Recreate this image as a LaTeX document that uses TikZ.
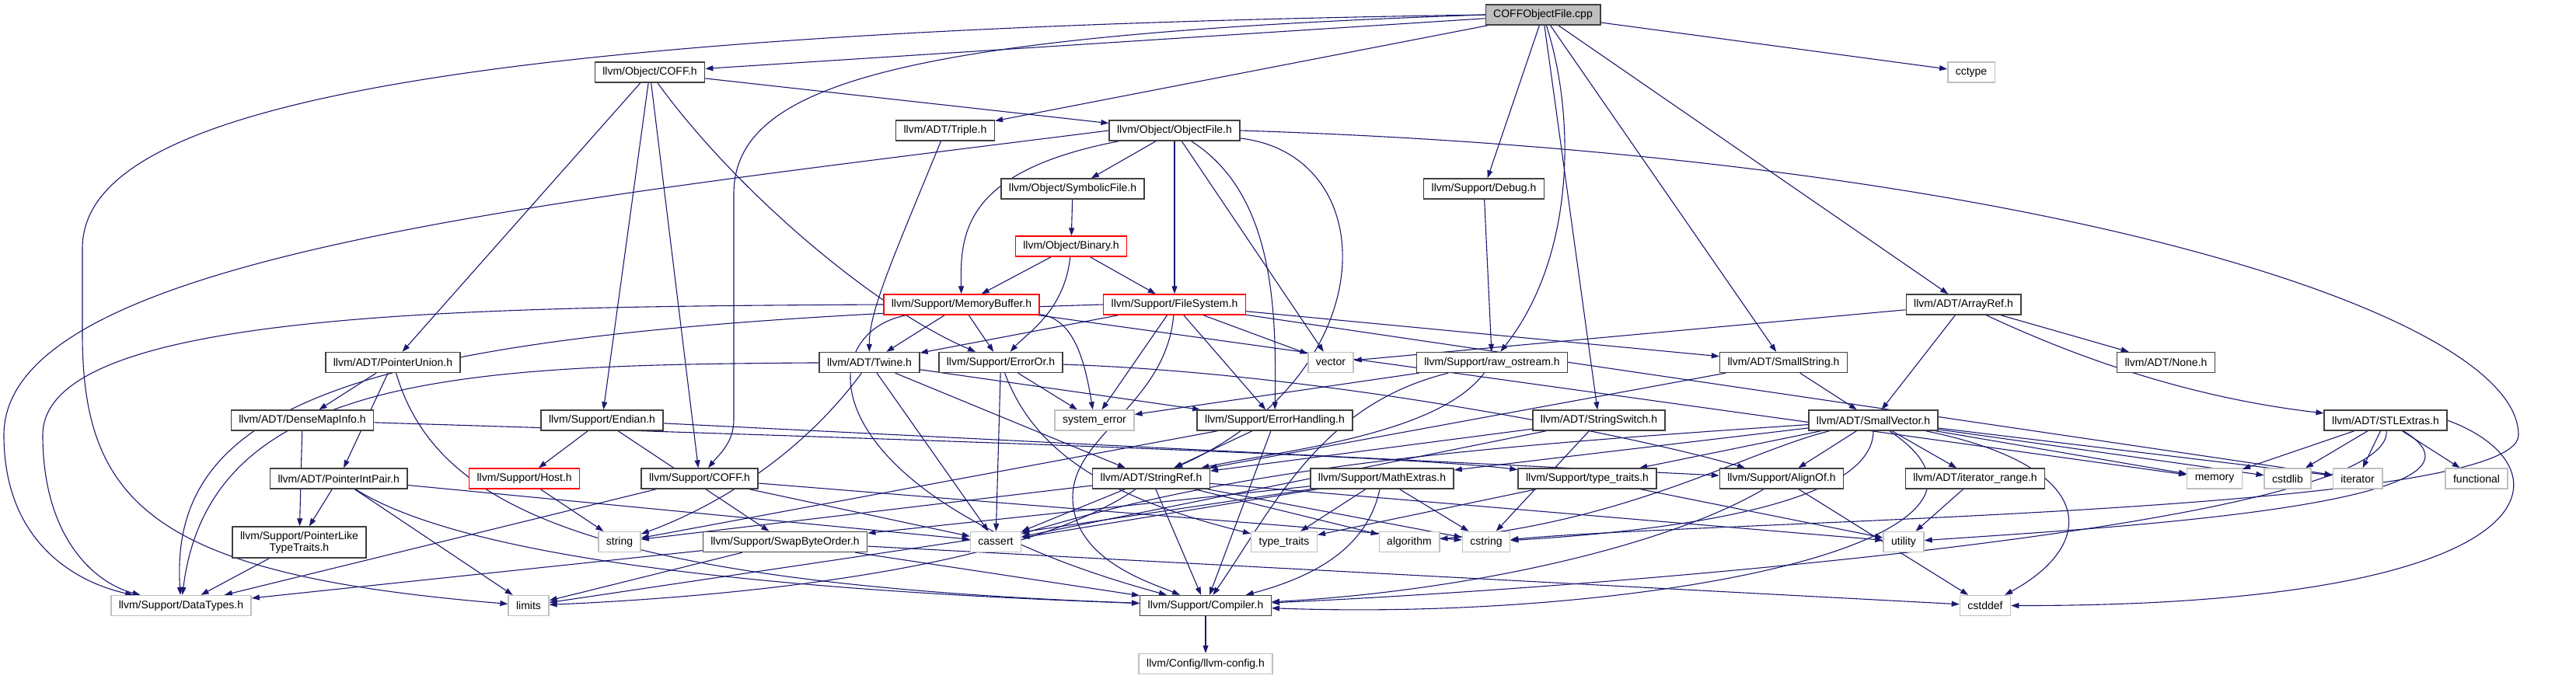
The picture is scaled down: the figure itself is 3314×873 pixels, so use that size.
\documentclass[tikz,border=0pt]{standalone}
\usepackage{fontspec}
\setmainfont{Liberation Sans}
\usetikzlibrary{arrows.meta, backgrounds}
\definecolor{EdgeColor}{RGB}{25,25,112}
\definecolor{FrameGray}{RGB}{191,191,191}
\definecolor{FrameDark}{RGB}{64,64,64}

\begin{document}
\begin{tikzpicture}[x=1pt, y=-1pt, >={Triangle[length=10pt,width=7pt]},
    file/.style={draw=FrameDark, line width=1.4pt, fill=white, font=\fontsize{14}{15}\selectfont,
        minimum height=26pt, inner xsep=10pt, inner ysep=2pt},
    redfile/.style={file, draw=red},
    sysfile/.style={file, draw=FrameGray},
    dep/.style={->, EdgeColor, line width=1.1pt}]
    \useasboundingbox (0,0) rectangle (3314,873);
    % Rank 0 to 5
    \node[file, fill=FrameGray] (cpp) at (1985,19) {COFFObjectFile.cpp};
    \node[file] (coffh) at (836,93) {llvm/Object/COFF.h};
    \node[sysfile] (cctype) at (2536,93) {cctype};
    \node[file] (triple) at (1216,168) {llvm/ADT/Triple.h};
    \node[file] (objfile) at (1511,168) {llvm/Object/ObjectFile.h};
    \node[file] (symfile) at (1380,243) {llvm/Object/SymbolicFile.h};
    \node[file] (debug) at (1909,243) {llvm/Support/Debug.h};
    \node[redfile] (binary) at (1378,317) {llvm/Object/Binary.h};
    \node[redfile] (membuf) at (1237,392) {llvm/Support/MemoryBuffer.h};
    \node[redfile] (filesys) at (1511,392) {llvm/Support/FileSystem.h};
    \node[file] (arrayref) at (2526,392) {llvm/ADT/ArrayRef.h};
    % Rank 6
    \node[file] (ptrunion) at (505.5,466.5) {llvm/ADT/PointerUnion.h};
    \node[file] (twine) at (1118.5,466.5) {llvm/ADT/Twine.h};
    \node[file] (erroror) at (1287.5,466.5) {llvm/Support/ErrorOr.h};
    \node[sysfile] (vector) at (1712,466.5) {vector};
    \node[file] (rawos) at (1919.5,466.5) {llvm/Support/raw\_ostream.h};
    \node[file] (smallstr) at (2294.5,466.5) {llvm/ADT/SmallString.h};
    \node[file] (none) at (2786.5,466.5) {llvm/ADT/None.h};
    % Rank 7
    \node[file] (densemap) at (389,541) {llvm/ADT/DenseMapInfo.h};
    \node[file] (endian) at (774.5,541) {llvm/Support/Endian.h};
    \node[sysfile] (syserr) at (1408,541) {system\_error};
    \node[file] (errhandl) at (1640,541) {llvm/Support/ErrorHandling.h};
    \node[file] (strswitch) at (2057,541) {llvm/ADT/StringSwitch.h};
    \node[file] (smallvec) at (2410,541) {llvm/ADT/SmallVector.h};
    \node[file] (stlextras) at (3069,541) {llvm/ADT/STLExtras.h};
    % Rank 8
    \node[file] (ptrintpair) at (435.7,616) {llvm/ADT/PointerIntPair.h};
    \node[redfile] (host) at (674.7,616) {llvm/Support/Host.h};
    \node[file] (supcoff) at (900,616) {llvm/Support/COFF.h};
    \node[file] (strref) at (1481,616) {llvm/ADT/StringRef.h};
    \node[file] (mathext) at (1778,616) {llvm/Support/MathExtras.h};
    \node[file] (typetr) at (2042,616) {llvm/Support/type\_traits.h};
    \node[file] (alignof) at (2292,616) {llvm/Support/AlignOf.h};
    \node[file] (iterrange) at (2541,616) {llvm/ADT/iterator\_range.h};
    \node[sysfile] (memory) at (2849,616) {memory};
    \node[sysfile] (cstdlib) at (2943,616) {cstdlib};
    \node[sysfile] (iterator) at (3033,616) {iterator};
    \node[sysfile] (functional) at (3186,616) {functional};
    % Rank 9
    \node[file, align=center, minimum height=40pt] (pltt) at (385,698) {llvm/Support/PointerLike\\TypeTraits.h};
    \node[sysfile] (string) at (797,697.5) {string};
    \node[file] (swapbyte) at (1010,697.5) {llvm/Support/SwapByteOrder.h};
    \node[sysfile] (cassert) at (1281,697.5) {cassert};
    \node[sysfile] (typetraits) at (1652,697.5) {type\_traits};
    \node[sysfile] (algorithm) at (1813,697.5) {algorithm};
    \node[sysfile] (cstring) at (1912,697.5) {cstring};
    \node[sysfile] (utility) at (2449,697.5) {utility};
    % Rank 10 and 11
    \node[sysfile] (datatypes) at (233,779.5) {llvm/Support/DataTypes.h};
    \node[sysfile] (limits) at (680,779.5) {limits};
    \node[file] (compiler) at (1551,779.5) {llvm/Support/Compiler.h};
    \node[sysfile] (cstddef) at (2554,779.5) {cstddef};
    \node[sysfile] (llvmconfig) at (1551,854.5) {llvm/Config/llvm-config.h};
    \begin{scope}[on background layer]
    % Straight includes
    \foreach \a/\b in {cpp/coffh, cpp/triple, cpp/debug, cpp/smallstr, cpp/strswitch, cpp/arrayref, cpp/cctype,
        coffh/ptrunion, coffh/objfile, coffh/supcoff, coffh/endian,
        objfile/symfile, objfile/filesys, objfile/vector, symfile/binary, binary/membuf, binary/filesys,
        membuf/twine, membuf/erroror, membuf/memory,
        filesys/smallstr, filesys/twine, filesys/errhandl, filesys/syserr, filesys/vector, filesys/iterator,
        debug/rawos, rawos/syserr, smallstr/smallvec, smallstr/strref,
        strswitch/strref, strswitch/cassert, strswitch/cstring,
        arrayref/smallvec, arrayref/none, arrayref/vector,
        ptrunion/densemap, ptrunion/ptrintpair, densemap/pltt,
        endian/host, endian/swapbyte, endian/alignof,
        twine/strref, twine/errhandl, twine/cassert,
        erroror/syserr, erroror/cassert, errhandl/strref, errhandl/compiler, errhandl/string,
        smallvec/mathext, smallvec/typetr, smallvec/alignof, smallvec/iterrange,
        smallvec/cstdlib, smallvec/iterator, smallvec/memory,
        stlextras/memory, stlextras/cstdlib, stlextras/iterator, stlextras/functional,
        ptrintpair/pltt, ptrintpair/cassert, ptrintpair/limits, host/string,
        supcoff/cassert, supcoff/cstring, supcoff/datatypes,
        strref/compiler, strref/algorithm, strref/cassert, strref/cstring, strref/string, strref/utility,
        mathext/swapbyte, mathext/typetraits, mathext/cassert, mathext/cstring, mathext/limits,
        typetr/typetraits, typetr/utility, alignof/cstddef, iterrange/utility,
        pltt/datatypes, swapbyte/compiler, swapbyte/limits, swapbyte/cstddef, swapbyte/datatypes,
        compiler/llvmconfig}
        \draw[dep] (\a) -- (\b);
    % Bent includes
    \draw[dep] (cpp.west) .. controls (500,40) and (106,150) .. (106,320) -- (106,430) .. controls (106,650) and (200,740) .. (limits);
    \draw[dep] (cpp.west) .. controls (1150,45) and (944,110) .. (944,250) -- (944,540) .. controls (944,570) and (925,585) .. (supcoff);
    \draw[dep] (cpp) .. controls (2027,150) and (2027,330) .. (rawos);
    \draw[dep] (coffh) .. controls (950,250) and (1130,400) .. (erroror);
    \draw[dep] (triple) .. controls (1150,330) and (1118,400) .. (twine);
    \draw[dep] (objfile.west) .. controls (700,260) and (5,330) .. (5,560) .. controls (5,700) and (100,750) .. (datatypes);
    \draw[dep] (objfile) .. controls (1240,220) and (1235,300) .. (membuf);
    \draw[dep] (objfile) .. controls (1640,250) and (1642,400) .. (errhandl);
    \draw[dep] (objfile) .. controls (1782,200) and (1782,480) .. (strref);
    \draw[dep] (objfile.east) .. controls (2600,200) and (3240,400) .. (3240,560) .. controls (3240,660) and (2200,670) .. (cstring);
    \draw[dep] (binary) .. controls (1370,400) and (1320,430) .. (erroror);
    \draw[dep] (membuf.west) .. controls (600,395) and (55,400) .. (55,560) .. controls (55,690) and (120,750) .. (datatypes);
    \draw[dep] (membuf) .. controls (1040,430) and (1040,640) .. (compiler);
    \draw[dep] (membuf) .. controls (1380,410) and (1395,460) .. (syserr);
    \draw[dep] (filesys.west) .. controls (500,420) and (215,500) .. (datatypes);
    \draw[dep] (filesys) .. controls (1500,520) and (1380,560) .. (1380,640) .. controls (1380,720) and (1480,750) .. (compiler);
    \draw[dep] (arrayref) .. controls (2650,450) and (2800,510) .. (stlextras);
    \draw[dep] (rawos) .. controls (1850,560) and (1650,580) .. (strref);
    \draw[dep] (rawos) .. controls (1700,520) and (1640,650) .. (compiler);
    \draw[dep] (twine) .. controls (600,470) and (270,480) .. (datatypes);
    \draw[dep] (twine) .. controls (1020,600) and (900,660) .. (string);
    \draw[dep] (erroror) .. controls (1700,480) and (2100,560) .. (alignof);
    \draw[dep] (erroror) .. controls (1330,580) and (1420,640) .. (typetraits);
    \draw[dep] (ptrunion) .. controls (560,650) and (750,750) .. (compiler);
    \draw[dep] (densemap) .. controls (1000,560) and (1800,585) .. (typetr);
    \draw[dep] (ptrintpair) .. controls (600,720) and (1000,760) .. (compiler);
    \draw[dep] (strref) .. controls (1300,740) and (900,770) .. (limits);
    \draw[dep] (mathext) .. controls (1760,700) and (1700,740) .. (compiler);
    \draw[dep] (alignof) .. controls (2150,700) and (1900,760) .. (compiler);
    \draw[dep] (smallvec) .. controls (2250,580) and (2100,670) .. (algorithm);
    \draw[dep] (smallvec) .. controls (2410,640) and (2200,680) .. (cstring);
    \draw[dep] (smallvec) .. controls (1900,575) and (1600,600) .. (cassert);
    \draw[dep] (smallvec) .. controls (2700,600) and (2700,700) .. (cstddef);
    \draw[dep] (smallvec) .. controls (2650,700) and (2100,800) .. (compiler);
    \draw[dep] (stlextras.east) .. controls (3310,600) and (3300,780) .. (cstddef);
    \draw[dep] (stlextras) .. controls (3250,650) and (2700,680) .. (utility);
    \draw[dep] (stlextras) .. controls (3080,680) and (2000,760) .. (compiler);
    \end{scope}
\end{tikzpicture}
\end{document}
